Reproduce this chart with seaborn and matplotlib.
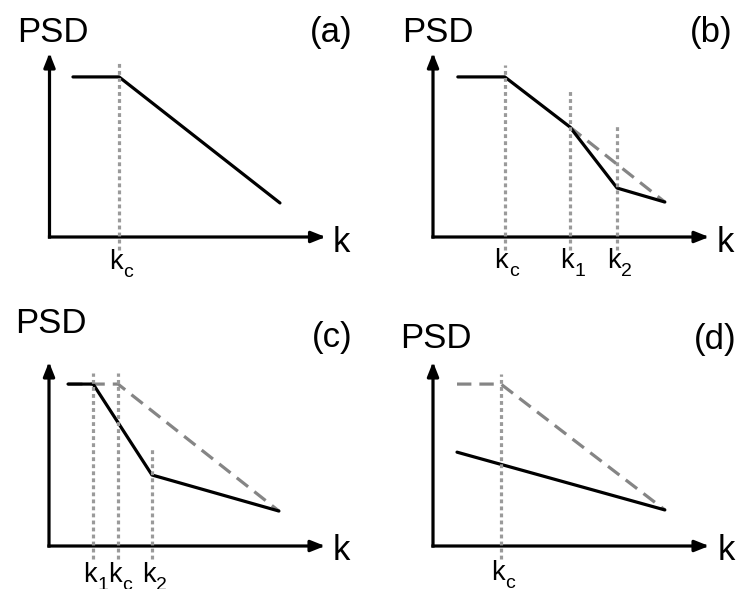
import matplotlib
matplotlib.use("Agg")
import matplotlib.pyplot as plt
import seaborn as sns
from matplotlib.transforms import offset_copy

W, H = 741, 589

sns.set_style("white")
plt.rcParams["font.family"] = ["Liberation Sans", "DejaVu Sans"]
plt.rcParams["text.color"] = "black"

# ---- spectra (arbitrary log-log units) ----
# (a) single cutoff kc
a_k = [0.85, 2.52, 8.35]
a_psd = [8.7, 8.7, 1.85]
a_ticks = [("c", 2.52, 9.5)]

# (b) break points above kc
b_k = [0.9, 2.6, 4.96, 6.67, 8.4]
b_psd = [8.7, 8.7, 5.98, 2.66, 1.9]
b_ref_k = [4.96, 8.4]
b_ref_psd = [5.98, 1.9]
b_ticks = [("c", 2.6, 9.35), ("1", 4.96, 8.04), ("2", 6.67, 6.09)]

# (c) break points around kc
c_k = [0.69, 1.6, 3.73, 8.33]
c_psd = [8.8, 8.8, 3.86, 1.9]
c_ref_k = [0.69, 2.5, 8.33]
c_ref_psd = [8.8, 8.8, 1.9]
c_ticks = [("1", 1.6, 9.4), ("c", 2.5, 9.4), ("2", 3.73, 5.33)]

# (d) plateau removed
d_k = [0.87, 8.4]
d_psd = [5.1, 1.96]
d_ref_k = [0.87, 2.46, 8.4]
d_ref_psd = [8.8, 8.8, 1.96]
d_ticks = [("c", 2.46, 9.35)]

panel_names = ["(a)", "(b)", "(c)", "(d)"]

# ---- layout (pixel positions of each panel's axis origin) ----
PX_W, PX_H = 276, 184
panels = [
    dict(name=panel_names[0], ox=49.5, oy=237, k=a_k, psd=a_psd, ref_k=None, ref_psd=None,
         ticks=a_ticks, psd_xy=(17, 42), name_xy=(353, 42), klab_xy=(333, 252), tick_base=269),
    dict(name=panel_names[1], ox=433, oy=237, k=b_k, psd=b_psd, ref_k=b_ref_k, ref_psd=b_ref_psd,
         ticks=b_ticks, psd_xy=(402, 42), name_xy=(733, 42), klab_xy=(717, 252), tick_base=268),
    dict(name=panel_names[2], ox=49, oy=546, k=c_k, psd=c_psd, ref_k=c_ref_k, ref_psd=c_ref_psd,
         ticks=c_ticks, psd_xy=(15, 333), name_xy=(353, 347), klab_xy=(333, 560), tick_base=582),
    dict(name=panel_names[3], ox=433, oy=546, k=d_k, psd=d_psd, ref_k=d_ref_k, ref_psd=d_ref_psd,
         ticks=d_ticks, psd_xy=(400, 348), name_xy=(737, 349), klab_xy=(718, 560), tick_base=580),
]

fig = plt.figure(figsize=(W / 100, H / 100), dpi=100)


def fig_xy(px, py):
    return px / W, 1 - py / H


BIG = 25
TICK = 19.5
SUB = 14
LW = 2.3

for p in panels:
    ax = fig.add_axes([p["ox"] / W, 1 - p["oy"] / H, PX_W / W, PX_H / H])
    ax.set_xlim(0, 10)
    ax.set_ylim(0, 10)
    ax.set_axis_off()

    # axes drawn as arrows
    arrow = dict(arrowstyle="-|>,head_length=0.4,head_width=0.16", mutation_scale=21,
                 lw=LW, color="black", shrinkA=0, shrinkB=0, capstyle="projecting")
    ax.annotate("", xy=(10, 0), xytext=(0, 0), arrowprops=arrow, annotation_clip=False)
    ax.annotate("", xy=(0, 10), xytext=(0, 0), arrowprops=arrow, annotation_clip=False)

    # reference spectrum (dashed) and modified spectrum (solid)
    if p["ref_k"] is not None:
        sns.lineplot(x=p["ref_k"], y=p["ref_psd"], ax=ax, color="#858585", lw=LW,
                     linestyle=(0, (4.5, 2.5)), zorder=2)
    sns.lineplot(x=p["k"], y=p["psd"], ax=ax, color="black", lw=LW, zorder=3)

    # characteristic wavenumbers
    tick_y = (p["oy"] - p["tick_base"]) / (PX_H / 10)
    for sub, xk, top in p["ticks"]:
        ax.vlines(xk, -0.7, top, colors="#9a9a9a", lw=LW, linestyles=[(0, (1.2, 1.0))],
                  zorder=4, clip_on=False)
        t_k = offset_copy(ax.transData, fig=fig, x=2.5, y=0, units="points")
        ax.text(xk, tick_y, "k", transform=t_k, ha="right", va="baseline",
                fontsize=TICK, clip_on=False)
        t_s = offset_copy(ax.transData, fig=fig, x=3.0, y=-5.8, units="points")
        ax.text(xk, tick_y, sub, transform=t_s, ha="left", va="baseline",
                fontsize=SUB, clip_on=False)

    fig.text(*fig_xy(*p["psd_xy"]), "PSD", ha="left", va="baseline", fontsize=BIG)
    fig.text(*fig_xy(*p["name_xy"]), p["name"], ha="right", va="baseline", fontsize=BIG)
    fig.text(*fig_xy(*p["klab_xy"]), "k", ha="left", va="baseline", fontsize=BIG)

fig.savefig("out.png", dpi=100)
